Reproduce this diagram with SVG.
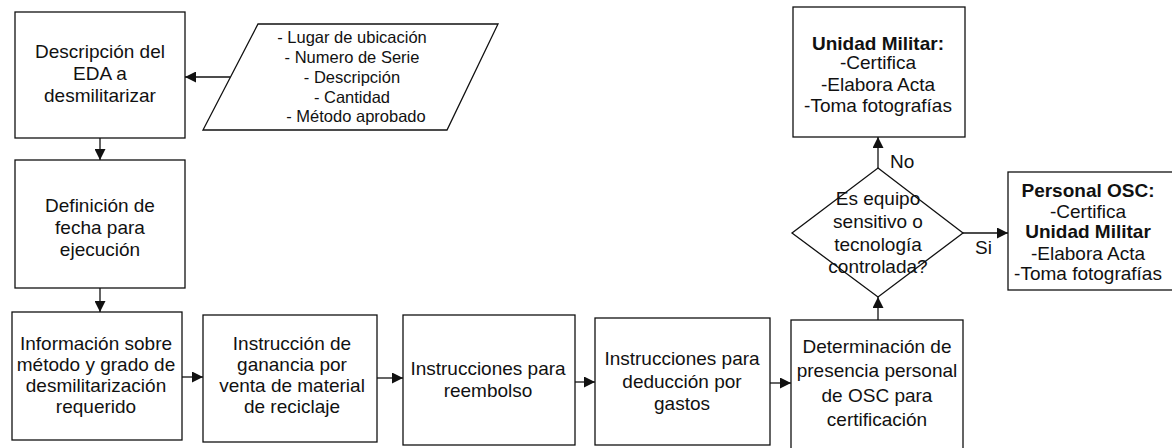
<svg xmlns="http://www.w3.org/2000/svg" width="1172" height="448" viewBox="0 0 1172 448">
<style>
.b{fill:#fff;stroke:#111;stroke-width:1.3}
.t{font-family:"Liberation Sans",Arial,sans-serif;font-size:19px;fill:#111;text-anchor:middle}
.p{font-size:16.5px}
.bd{font-weight:bold}
.l{font-family:"Liberation Sans",Arial,sans-serif;font-size:19px;fill:#111}
.c{stroke:#111;stroke-width:1.3;fill:none;marker-end:url(#ah)}
</style>
<defs>
<marker id="ah" markerUnits="userSpaceOnUse" markerWidth="11" markerHeight="11" refX="11" refY="5.5" orient="auto">
<path d="M0,0 L11,5.5 L0,11 z" fill="#111"/>
</marker>
</defs>
<rect width="1172" height="448" fill="#fff"/>
<g id="n1"><rect class="b" x="15" y="12" width="170" height="126"/>
<text class="t" x="100" y="58">Descripción del</text><text class="t" x="100" y="80">EDA a</text><text class="t" x="100" y="102">desmilitarizar</text></g>
<g id="n_input"><polygon class="b" points="258,24 498,24 447,130 203,130"/>
<text class="t p" x="352" y="43">- Lugar de ubicación</text><text class="t p" x="352" y="63">- Numero de Serie</text><text class="t p" x="352" y="83">- Descripción</text><text class="t p" x="352" y="103">- Cantidad</text><text class="t p" x="356" y="122">- Método aprobado</text></g>
<g id="n2"><rect class="b" x="15" y="160" width="170" height="128"/>
<text class="t" x="100" y="212">Definición de</text><text class="t" x="100" y="234">fecha para</text><text class="t" x="100" y="256">ejecución</text></g>
<g id="n3"><rect class="b" x="12" y="312" width="170" height="128"/>
<text class="t" x="96" y="350">Información sobre</text><text class="t" x="96" y="371">método y grado de</text><text class="t" x="96" y="392">desmilitarización</text><text class="t" x="96" y="413">requerido</text></g>
<g id="n4"><rect class="b" x="203" y="315" width="174" height="127"/>
<text class="t" x="292" y="350">Instrucción de</text><text class="t" x="292" y="371">ganancia por</text><text class="t" x="292" y="392">venta de material</text><text class="t" x="292" y="413">de reciclaje</text></g>
<g id="n5"><rect class="b" x="403" y="315" width="172" height="130"/>
<text class="t" x="488" y="375">Instrucciones para</text><text class="t" x="488" y="397">reembolso</text></g>
<g id="n6"><rect class="b" x="595" y="318" width="175" height="127"/>
<text class="t" x="682" y="365">Instrucciones para</text><text class="t" x="682" y="388">deducción por</text><text class="t" x="682" y="410">gastos</text></g>
<g id="n7"><rect class="b" x="791" y="320" width="172" height="140"/>
<text class="t" x="877" y="353">Determinación de</text><text class="t" x="877" y="377">presencia personal</text><text class="t" x="877" y="402">de OSC para</text><text class="t" x="877" y="426">certificación</text></g>
<g id="n_decision"><polygon class="b" points="878,168 963,233 878,297 792,233"/>
<text class="t" x="878" y="205">Es equipo</text><text class="t" x="878" y="228">sensitivo o</text><text class="t" x="878" y="251">tecnología</text><text class="t" x="878" y="273">controlada?</text></g>
<g id="n_um"><rect class="b" x="793" y="7" width="172" height="130"/>
<text class="t bd" x="878" y="50">Unidad Militar:</text><text class="t" x="878" y="69">-Certifica</text><text class="t" x="878" y="91">-Elabora Acta</text><text class="t" x="878" y="112">-Toma fotografías</text></g>
<g id="n_osc"><rect class="b" x="1008" y="172" width="180" height="118"/>
<text class="t bd" x="1088" y="197">Personal OSC:</text><text class="t" x="1088" y="218">-Certifica</text><text class="t bd" x="1088" y="238">Unidad Militar</text><text class="t" x="1088" y="260">-Elabora Acta</text><text class="t" x="1088" y="280">-Toma fotografías</text></g>
<g id="connectors">
<line class="c" x1="230" y1="77" x2="185" y2="77"/>
<line class="c" x1="100" y1="138" x2="100" y2="160"/>
<line class="c" x1="100" y1="288" x2="100" y2="312"/>
<line class="c" x1="182" y1="377" x2="203" y2="377"/>
<line class="c" x1="377" y1="378" x2="403" y2="378"/>
<line class="c" x1="575" y1="382" x2="595" y2="382"/>
<line class="c" x1="770" y1="383" x2="791" y2="383"/>
<line class="c" x1="878" y1="320" x2="878" y2="297"/>
<line class="c" x1="878" y1="168" x2="878" y2="137"/>
<line class="c" x1="963" y1="233" x2="1008" y2="233"/>
<text class="l" x="890" y="168">No</text>
<text class="l" x="975" y="254">Si</text>
</g>
</svg>
